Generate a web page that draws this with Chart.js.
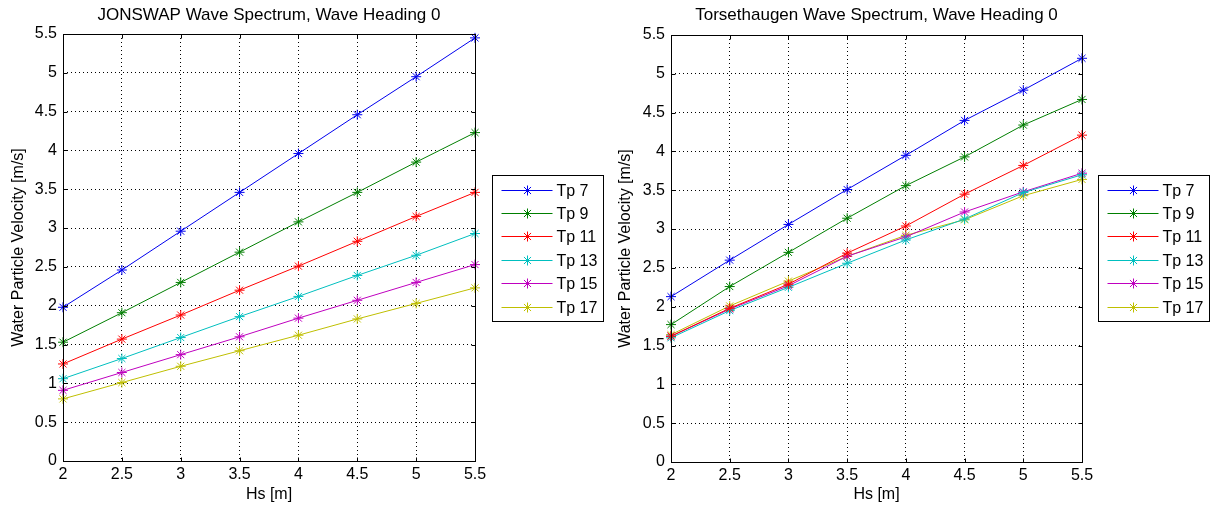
<!DOCTYPE html>
<html>
<head>
<meta charset="utf-8">
<script src="https://cdn.jsdelivr.net/npm/chart.js@4.4.0/dist/chart.umd.min.js"></script>
<style>
  body { margin: 0; background: #fff; width: 1211px; height: 512px; overflow: hidden; position: relative; }
  .panel { position: absolute; top: 0; height: 512px; }
  #leftPanel { left: 0; width: 610px; }
  #rightPanel { left: 610px; width: 601px; }
</style>
</head>
<body>
<div class="panel" id="leftPanel"><canvas id="jonswapChart"></canvas></div>
<div class="panel" id="rightPanel"><canvas id="torsethaugenChart"></canvas></div>
<script>
// Data
const hs = [2, 2.5, 3, 3.5, 4, 4.5, 5, 5.5];
const seriesNames = ['Tp 7', 'Tp 9', 'Tp 11', 'Tp 13', 'Tp 15', 'Tp 17'];

// JONSWAP
const jonswapTp7 = [1.98, 2.46, 2.96, 3.46, 3.96, 4.46, 4.95, 5.45];
const jonswapTp9 = [1.53, 1.91, 2.30, 2.69, 3.08, 3.46, 3.85, 4.23];
const jonswapTp11 = [1.25, 1.57, 1.88, 2.20, 2.51, 2.83, 3.15, 3.46];
const jonswapTp13 = [1.06, 1.32, 1.59, 1.86, 2.12, 2.39, 2.65, 2.93];
const jonswapTp15 = [0.91, 1.14, 1.37, 1.60, 1.84, 2.07, 2.30, 2.53];
const jonswapTp17 = [0.80, 1.01, 1.22, 1.42, 1.62, 1.83, 2.03, 2.23];

// Torsethaugen
const torsTp7 = [2.13, 2.60, 3.06, 3.51, 3.95, 4.40, 4.79, 5.20];
const torsTp9 = [1.77, 2.26, 2.70, 3.14, 3.56, 3.93, 4.34, 4.67];
const torsTp11 = [1.62, 1.98, 2.29, 2.69, 3.04, 3.45, 3.82, 4.21];
const torsTp13 = [1.60, 1.95, 2.25, 2.56, 2.86, 3.13, 3.47, 3.70];
const torsTp15 = [1.62, 1.97, 2.27, 2.65, 2.90, 3.22, 3.48, 3.72];
const torsTp17 = [1.64, 2.01, 2.33, 2.65, 2.92, 3.12, 3.43, 3.64];

const xTicks = [2, 2.5, 3, 3.5, 4, 4.5, 5, 5.5];
const yTicks = [0, 0.5, 1, 1.5, 2, 2.5, 3, 3.5, 4, 4.5, 5, 5.5];

const lineColors = ['#0000ee', '#007f00', '#ff0000', '#00bfbf', '#bf00bf', '#bfbf00'];

Chart.defaults.font.family = 'Arial, "Liberation Sans", Helvetica, sans-serif';
Chart.defaults.font.size = 16;
Chart.defaults.color = '#000';

// box round the plot, inward ticks and a MATLAB style legend
const matlabFrame = {
  id: 'matlabFrame',
  afterDatasetsDraw(chart) {
    const { ctx, chartArea: a, scales } = chart;
    const l = Math.round(a.left) + 0.5, r = Math.round(a.right) + 0.5;
    const t = Math.round(a.top) + 0.5, b = Math.round(a.bottom) + 0.5;
    ctx.save();
    ctx.strokeStyle = '#000';
    ctx.lineWidth = 1;
    ctx.beginPath();
    xTicks.forEach(v => {
      const px = Math.round(scales.x.getPixelForValue(v)) + 0.5;
      ctx.moveTo(px, b); ctx.lineTo(px, b - 4);
      ctx.moveTo(px, t); ctx.lineTo(px, t + 4);
    });
    yTicks.forEach(v => {
      const py = Math.round(scales.y.getPixelForValue(v)) + 0.5;
      ctx.moveTo(l, py); ctx.lineTo(l + 4, py);
      ctx.moveTo(r, py); ctx.lineTo(r - 4, py);
    });
    ctx.stroke();
    ctx.strokeRect(l, t, r - l, b - t);
    ctx.restore();
  },
  afterDraw(chart) {
    const { ctx, chartArea: a } = chart;
    const geom = chart.options.plugins.matlabFrame;
    const bx = Math.round(a.right) + geom.legendGap + 0.5, by = 175.5, bw = 111, bh = 146;
    ctx.save();
    ctx.fillStyle = '#fff';
    ctx.fillRect(bx, by, bw, bh);
    ctx.strokeStyle = '#000';
    ctx.lineWidth = 1;
    ctx.strokeRect(bx, by, bw, bh);
    ctx.font = '16px Arial, "Liberation Sans", sans-serif';
    ctx.textBaseline = 'middle';
    chart.data.datasets.forEach((ds, i) => {
      const y = Math.round(by + 14 + i * 23.4) + 0.5;
      ctx.strokeStyle = ds.borderColor;
      ctx.beginPath();
      ctx.moveTo(bx + 9, y);
      ctx.lineTo(bx + 60, y);
      ctx.stroke();
      Chart.helpers.drawPoint(ctx, { pointStyle: 'star', radius: 5, borderWidth: 1, rotation: 0 }, bx + 35, y);
      ctx.fillStyle = '#000';
      ctx.fillText(ds.label, bx + 64, y + 1);
    });
    ctx.restore();
  }
};

function makeDatasets(seriesList) {
  return seriesList.map((values, i) => ({
    label: seriesNames[i],
    data: hs.map((h, j) => ({ x: h, y: values[j] })),
    borderColor: lineColors[i],
    backgroundColor: lineColors[i],
    borderWidth: 1,
    pointStyle: 'star',
    pointRadius: 5,
    pointBorderWidth: 1,
    pointBorderColor: lineColors[i],
    tension: 0,
    clip: false
  }));
}

function makeChart(canvasId, titleText, seriesList, geom) {
  return new Chart(document.getElementById(canvasId), {
    type: 'line',
    data: { datasets: makeDatasets(seriesList) },
    plugins: [matlabFrame],
    options: {
      responsive: true,
      maintainAspectRatio: false,
      animation: false,
      layout: { padding: { left: 0, right: geom.padRight, top: 0, bottom: 0 } },
      plugins: {
        matlabFrame: { legendGap: geom.legendGap },
        legend: { display: false },
        tooltip: { enabled: false },
        title: {
          display: true,
          text: titleText,
          fullSize: false,
          color: '#000',
          font: { size: 17, weight: 'normal' },
          padding: { top: 5, bottom: geom.top - 5 - 20.4 }
        }
      },
      scales: {
        x: {
          type: 'linear',
          min: 2,
          max: 5.5,
          afterBuildTicks: s => { s.ticks = xTicks.map(v => ({ value: v })); },
          afterFit: s => { s.height = 512 - geom.bottom; },
          ticks: { autoSkip: false, maxRotation: 0, padding: 4, color: '#000', callback: v => String(v) },
          grid: { color: '#000', lineWidth: 1, drawTicks: false },
          border: { display: false, dash: [1, 3] },
          title: { display: true, text: 'Hs [m]', color: '#000', padding: { top: 0, bottom: 8 } }
        },
        y: {
          min: 0,
          max: 5.5,
          afterBuildTicks: s => { s.ticks = yTicks.map(v => ({ value: v })); },
          afterFit: s => { s.width = geom.left; },
          ticks: { autoSkip: false, padding: 6, color: '#000', callback: v => String(v) },
          grid: { color: '#000', lineWidth: 1, drawTicks: false },
          border: { display: false, dash: [1, 3] },
          title: { display: true, text: 'Water Particle Velocity [m/s]', color: '#000', padding: { top: geom.yTitlePad, bottom: 0 } }
        }
      }
    }
  });
}

makeChart('jonswapChart', 'JONSWAP Wave Spectrum, Wave Heading 0',
  [jonswapTp7, jonswapTp9, jonswapTp11, jonswapTp13, jonswapTp15, jonswapTp17],
  { left: 63, padRight: 135, top: 34, bottom: 461, yTitlePad: 9, legendGap: 17 });

makeChart('torsethaugenChart', 'Torsethaugen Wave Spectrum, Wave Heading 0',
  [torsTp7, torsTp9, torsTp11, torsTp13, torsTp15, torsTp17],
  { left: 61, padRight: 129, top: 35, bottom: 462, yTitlePad: 6, legendGap: 16 });
</script>
</body>
</html>
